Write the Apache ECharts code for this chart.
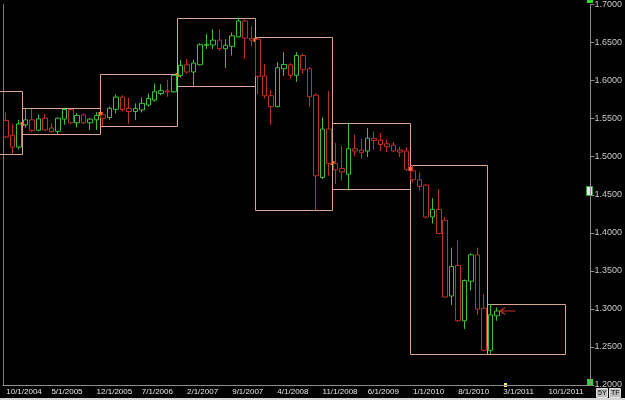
<!DOCTYPE html>
<html>
<head>
<meta charset="utf-8">
<script src="https://cdn.jsdelivr.net/npm/echarts@6/dist/echarts.min.js"></script>
<style>
html, body { margin: 0; padding: 0; background: #000; }
#chart { width: 625px; height: 400px; }
</style>
</head>
<body>
<div id="chart"></div>
<script>
// monthly bars from Oct 2004, axis runs on to Apr 2012
const firstMonth = [2004, 10];
const monthCount = 91;

// [open, close, low, high]
const candles = [
    [1.5477, 1.5260, 1.5247, 1.5584], [1.5282, 1.5126, 1.5030, 1.5429], [1.5126, 1.5429, 1.5095, 1.5484],
    [1.5419, 1.5484, 1.5386, 1.5636], [1.5484, 1.5347, 1.5325, 1.5627], [1.5347, 1.5497, 1.5334, 1.5558],
    [1.5506, 1.5351, 1.5342, 1.5558], [1.5377, 1.5329, 1.5318, 1.5438], [1.5334, 1.5506, 1.5299, 1.5516],
    [1.5494, 1.5620, 1.5419, 1.5645], [1.5620, 1.5445, 1.5429, 1.5627], [1.5445, 1.5542, 1.5386, 1.5575],
    [1.5549, 1.5445, 1.5429, 1.5571], [1.5445, 1.5494, 1.5351, 1.5506], [1.5484, 1.5542, 1.5351, 1.5584],
    [1.5549, 1.5506, 1.5406, 1.5584], [1.5516, 1.5636, 1.5484, 1.5658], [1.5623, 1.5783, 1.5571, 1.5818],
    [1.5783, 1.5620, 1.5594, 1.5809], [1.5636, 1.5594, 1.5432, 1.5775], [1.5594, 1.5632, 1.5484, 1.5701],
    [1.5614, 1.5701, 1.5581, 1.5775], [1.5679, 1.5766, 1.5658, 1.5831], [1.5744, 1.5853, 1.5723, 1.5961],
    [1.5831, 1.5866, 1.5809, 1.5952], [1.5866, 1.5853, 1.5788, 1.6013], [1.5853, 1.6069, 1.5840, 1.6091],
    [1.6069, 1.6199, 1.6039, 1.6273], [1.6208, 1.6113, 1.6091, 1.6286], [1.6113, 1.6230, 1.5931, 1.6273],
    [1.6208, 1.6471, 1.6199, 1.6490], [1.6464, 1.6477, 1.6416, 1.6610], [1.6468, 1.6532, 1.6416, 1.6675],
    [1.6532, 1.6419, 1.6394, 1.6675], [1.6419, 1.6464, 1.6165, 1.6545], [1.6451, 1.6588, 1.6329, 1.6632],
    [1.6575, 1.6783, 1.6568, 1.6827], [1.6783, 1.6558, 1.6286, 1.6805], [1.6555, 1.6532, 1.6445, 1.6714],
    [1.6545, 1.6056, 1.5822, 1.6568], [1.6061, 1.5801, 1.5766, 1.6221], [1.5801, 1.5658, 1.5419, 1.5874],
    [1.5658, 1.6169, 1.5649, 1.6243], [1.6156, 1.6212, 1.6061, 1.6373], [1.6208, 1.6069, 1.6026, 1.6230],
    [1.6069, 1.6329, 1.5983, 1.6373], [1.6329, 1.6143, 1.6091, 1.6351], [1.6156, 1.5788, 1.5658, 1.6178],
    [1.5809, 1.4749, 1.4295, 1.5831], [1.4727, 1.5364, 1.4705, 1.5519], [1.5364, 1.4913, 1.4749, 1.5866],
    [1.4909, 1.4827, 1.4640, 1.5182], [1.4844, 1.4801, 1.4684, 1.5147], [1.4770, 1.5104, 1.4575, 1.5442],
    [1.5104, 1.5074, 1.5009, 1.5290], [1.5087, 1.5052, 1.4974, 1.5234], [1.5074, 1.5243, 1.4996, 1.5377],
    [1.5238, 1.5212, 1.5095, 1.5334], [1.5217, 1.5160, 1.5074, 1.5312], [1.5169, 1.5130, 1.5061, 1.5225],
    [1.5152, 1.5074, 1.5061, 1.5195], [1.5087, 1.5061, 1.4996, 1.5130], [1.5074, 1.4835, 1.4814, 1.5126],
    [1.4814, 1.4697, 1.4662, 1.4890], [1.4697, 1.4610, 1.4555, 1.4792], [1.4627, 1.4208, 1.4186, 1.4640],
    [1.4208, 1.4308, 1.4121, 1.4455], [1.4308, 1.3991, 1.3987, 1.4575], [1.4165, 1.3156, 1.3147, 1.4208],
    [1.3169, 1.3558, 1.3052, 1.3805], [1.3571, 1.2844, 1.2831, 1.3905], [1.2844, 1.3373, 1.2736, 1.3386],
    [1.3364, 1.3710, 1.3243, 1.3731], [1.3710, 1.2996, 1.2922, 1.3805], [1.3009, 1.2455, 1.2442, 1.3191],
    [1.2455, 1.2922, 1.2409, 1.3065], [1.2909, 1.2972, 1.2844, 1.3019]
];

// yearly range boxes (category index of first / last month)
const yearStart = [-9, 3, 15, 27, 39, 51, 63, 75];
const yearEnd = [2, 14, 26, 38, 50, 62, 74, 86];
const yearHigh = [1.5857, 1.5645, 1.6091, 1.6827, 1.6568, 1.5442, 1.4890, 1.3065];
const yearLow = [1.5030, 1.5299, 1.5406, 1.5931, 1.4295, 1.4575, 1.2403, 1.2403];
const yearOpen = [null, 1.5429, 1.5562, 1.6078, 1.6536, 1.4922, 1.4838, 1.2484];

const lastPrice = 1.2972;
const yMin = 1.2, yMax = 1.7, yStep = 0.05;

const categories = [];
for (let i = 0; i < monthCount; i++) {
    const m0 = firstMonth[1] - 1 + i;
    categories.push((m0 % 12 + 1) + "/1/" + (firstMonth[0] + Math.floor(m0 / 12)));
}

const chart = echarts.init(document.getElementById("chart"));
const axisGray = "#8c8c8c";

chart.setOption({
    backgroundColor: "#000",
    animation: false,
    grid: { left: 3, right: 32, top: 0, bottom: 15 },
    xAxis: {
        type: "category",
        data: categories,
        boundaryGap: true,
        axisLine: { lineStyle: { color: axisGray } },
        axisTick: { interval: 6, length: 5, lineStyle: { color: axisGray } },
        axisLabel: {
            interval: 6,
            align: "left",
            margin: 3,
            color: "#e6e6e6",
            fontSize: 8,
            fontFamily: "Liberation Sans Narrow, Liberation Sans, Arial"
        },
        splitLine: { show: false }
    },
    yAxis: [
        {
            type: "value",
            position: "right",
            min: yMin,
            max: yMax,
            interval: yStep,
            axisLine: { show: true, lineStyle: { color: axisGray } },
            axisTick: { show: true, length: 4, lineStyle: { color: axisGray } },
            axisLabel: {
                margin: 4,
                color: "#c8c8c8",
                fontSize: 9,
                fontFamily: "Liberation Sans, Arial",
                formatter: v => v.toFixed(4)
            },
            splitLine: { show: false }
        },
        {
            type: "value",
            position: "left",
            min: yMin,
            max: yMax,
            axisLine: { show: true, lineStyle: { color: "#7a7a7a" } },
            axisTick: { show: false },
            axisLabel: { show: false },
            splitLine: { show: false }
        }
    ],
    series: [
        {
            type: "custom",
            clip: false,
            silent: true,
            z: 1,
            data: yearHigh.map((h, i) => [Math.max(yearStart[i], 0), h]),
            renderItem: function (params, api) {
                const i = params.dataIndex;
                const bw = api.size([1, 0])[0];
                const s = yearStart[i];
                const top = api.coord([Math.max(s, 0), yearHigh[i]]);
                const bot = api.coord([yearEnd[i], yearLow[i]]);
                const x1 = Math.round(top[0] - bw / 2 + Math.min(s, 0) * bw) + 0.5;
                const x2 = Math.round(bot[0] + bw / 2) + 0.5;
                const y1 = Math.round(top[1]) + 0.5;
                const y2 = Math.round(bot[1]) + 0.5;
                const children = [{
                    type: "rect",
                    shape: { x: x1, y: y1, width: x2 - x1, height: y2 - y1 },
                    style: { fill: null, stroke: "#d9a58e", lineWidth: 1 }
                }];
                if (yearOpen[i] != null) {
                    const o = api.coord([Math.max(s, 0), yearOpen[i]]);
                    children.push({
                        type: "rect",
                        shape: { x: x1 - 2, y: Math.round(o[1]) - 2, width: 4, height: 4 },
                        style: { fill: "#ff7b2e" }
                    });
                }
                return { type: "group", children: children };
            }
        },
        {
            type: "candlestick",
            data: candles,
            barWidth: 5,
            z: 2,
            itemStyle: {
                color: "#000",
                color0: "#000",
                borderColor: "#3cbf3c",
                borderColor0: "#c0302a",
                borderColorDoji: "#3cbf3c",
                borderWidth: 1
            },
            markLine: {
                silent: true,
                symbol: "none",
                lineStyle: { opacity: 0 },
                data: [{ yAxis: lastPrice }],
                label: {
                    position: "end",
                    distance: 1,
                    formatter: lastPrice.toFixed(4),
                    backgroundColor: "#fff",
                    color: "#000",
                    fontSize: 9,
                    fontFamily: "Liberation Sans, Arial",
                    padding: [2, 4, 1, 4]
                }
            },
            markPoint: {
                silent: true,
                symbol: "path://M5,0 L0,5 L5,10 M0,5 L16,5",
                symbolSize: [15, 7],
                symbolOffset: [11, 0],
                itemStyle: { color: "none", borderColor: "#c8302a", borderWidth: 1.2 },
                label: { show: false },
                data: [{ coord: [categories[candles.length - 1], lastPrice] }]
            }
        }
    ],
    graphic: [
        { type: "rect", shape: { x: 587, y: 0, width: 6, height: 3 }, style: { fill: "#2ee02e" } },
        { type: "rect", shape: { x: 586.5, y: 186.5, width: 6, height: 9 }, style: { fill: "#dfe9df", stroke: "#2fa02f", lineWidth: 1 } },
        { type: "rect", shape: { x: 587, y: 379, width: 6, height: 6 }, style: { fill: "#19e619" } },
        { type: "rect", shape: { x: 504, y: 383, width: 3, height: 4 }, style: { fill: "#f3f08a" } },
        { type: "rect", shape: { x: 596.5, y: 388.5, width: 11, height: 9 }, style: { fill: "#bdbdbd", stroke: "#e0e0e0" } },
        { type: "text", x: 598, y: 390, style: { text: "5Y", fontSize: 7, fill: "#000", fontFamily: "Liberation Sans, Arial" } },
        { type: "rect", shape: { x: 609.5, y: 388.5, width: 11, height: 9 }, style: { fill: "#bdbdbd", stroke: "#e0e0e0" } },
        { type: "text", x: 611, y: 390, style: { text: "TF", fontSize: 7, fill: "#000", fontFamily: "Liberation Sans, Arial" } },
        { type: "rect", shape: { x: 0, y: 398, width: 625, height: 2 }, style: { fill: "#d4d4d4" } }
    ]
});
</script>
</body>
</html>
